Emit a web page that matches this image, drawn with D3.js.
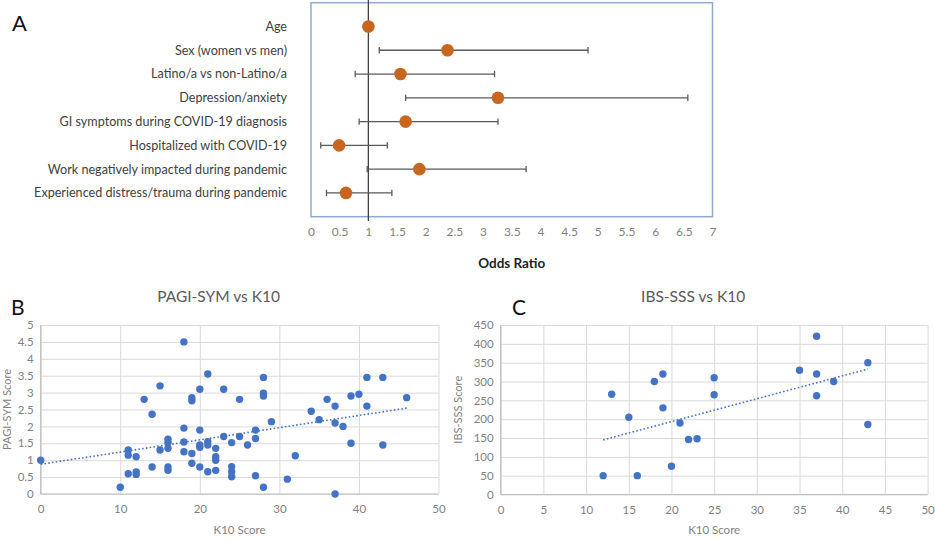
<!DOCTYPE html>
<html>
<head>
<meta charset="utf-8">
<script src="https://cdn.jsdelivr.net/npm/d3@7"></script>
<style>
  body { margin: 0; background: #fff; }
  svg { display: block; font-family: Lato, "Open Sans", sans-serif; }
</style>
</head>
<body>
<svg width="935" height="540"></svg>
<script>
// --- Panel A : odds ratios ---
var oddsLabels = [
    "Age",
    "Sex (women vs men)",
    "Latino/a vs non-Latino/a",
    "Depression/anxiety",
    "GI symptoms during COVID-19 diagnosis",
    "Hospitalized with COVID-19",
    "Work negatively impacted during pandemic",
    "Experienced distress/trauma during pandemic"
];
var oddsRatio = [1.0, 2.38, 1.56, 3.26, 1.65, 0.49, 1.89, 0.61];
var ciLower   = [0.98, 1.19, 0.77, 1.65, 0.84, 0.17, 0.98, 0.27];
var ciUpper   = [1.02, 4.83, 3.20, 6.57, 3.26, 1.33, 3.75, 1.41];
var oddsTicks = [0, 0.5, 1, 1.5, 2, 2.5, 3, 3.5, 4, 4.5, 5, 5.5, 6, 6.5, 7];

// --- Panel B : PAGI-SYM vs K10 ---
var pagiK10 = [0, 10, 11, 11, 11, 12, 12, 12, 13, 14, 14, 15, 15,
    16, 16, 16, 16, 16, 18, 18, 18, 18, 19, 19, 19, 19,
    20, 20, 20, 20, 20, 21, 21, 21, 21, 22, 22, 22, 22,
    23, 23, 24, 24, 24, 24, 25, 25, 26, 27, 27, 27,
    28, 28, 28, 28, 29, 31, 32, 34, 35, 36, 37, 37, 37,
    38, 39, 39, 40, 41, 41, 43, 43, 46];
var pagiScore = [1.0, 0.2, 1.3, 1.15, 0.6, 1.1, 0.65, 0.58, 2.8, 2.36, 0.8, 3.2, 1.3,
    1.62, 1.52, 1.35, 0.8, 0.7, 4.5, 1.95, 1.54, 1.25, 2.85, 2.76, 1.2, 0.91,
    3.1, 1.89, 1.45, 1.38, 0.8, 3.55, 1.55, 1.45, 0.66, 1.35, 1.1, 1.0, 0.7,
    3.1, 1.7, 1.52, 0.81, 0.66, 0.51, 2.8, 1.7, 1.45, 1.89, 1.64, 0.54,
    3.45, 2.98, 2.9, 0.2, 2.14, 0.44, 1.13, 2.45, 2.2, 2.8, 2.6, 2.1, 0,
    2.0, 2.9, 1.5, 2.95, 3.45, 2.6, 3.45, 1.45, 2.85];
var pagiTrend = [[0, 0.88], [46, 2.54]];
var pagiXTicks = [0, 10, 20, 30, 40, 50];
var pagiYTicks = [0, 0.5, 1, 1.5, 2, 2.5, 3, 3.5, 4, 4.5, 5];

// --- Panel C : IBS-SSS vs K10 ---
var ibsK10 = [12, 13, 15, 16, 18, 19, 19, 20, 21, 22, 23, 25, 25, 35, 37, 37, 37, 39, 43, 43];
var ibsScore = [50, 266, 205, 50, 300, 320, 230, 75, 190, 146, 148, 310, 265, 330, 420, 320, 262, 300, 350, 186];
var ibsTrend = [[12, 145], [43, 333]];
var ibsXTicks = [0, 5, 10, 15, 20, 25, 30, 35, 40, 45, 50];
var ibsYTicks = [0, 50, 100, 150, 200, 250, 300, 350, 400, 450];

var svg = d3.select("svg");
var gridColor = "#d9d9d9";
var tickColor = "#7f7f7f";
var blue = "#4472c4";
var orange = "#c8651e";
var fmt = d3.format("~g"); // 0.5, 1, 1.5 ... comme Excel

// ================= Panel A =================
var xA = d3.scaleLinear().domain([0, 7]).range([311, 712.5]);
var yA = d3.scalePoint().domain(oddsLabels).range([2.7, 216.7]).padding(1);

svg.append("text")
    .attr("x", 12).attr("y", 31)
    .attr("font-size", "22px").attr("fill", "#111")
    .text("A");

// cadre
svg.append("rect")
    .attr("x", xA(0)).attr("y", 2.7)
    .attr("width", xA(7) - xA(0)).attr("height", 214)
    .attr("fill", "none").attr("stroke", "#8fa8d2").attr("stroke-width", 1.5);

// ligne de référence OR = 1
svg.append("line")
    .attr("x1", xA(1)).attr("x2", xA(1))
    .attr("y1", 0).attr("y2", 221)
    .attr("stroke", "#404040").attr("stroke-width", 1.3);

// étiquettes des catégories
svg.append("g").selectAll("text")
    .data(oddsLabels)
    .join("text")
    .attr("x", 287)
    .attr("y", function(d) { return yA(d); })
    .attr("dy", "0.35em")
    .attr("text-anchor", "end")
    .attr("font-size", "12.6px")
    .attr("fill", "#404040")
    .text(function(d) { return d; });

// axe des x (étiquettes seulement)
var axisA = svg.append("g")
    .attr("transform", "translate(0,227)")
    .call(d3.axisBottom(xA).tickValues(oddsTicks).tickFormat(fmt).tickSize(0).tickPadding(0));
axisA.select(".domain").remove();
axisA.selectAll("text")
    .attr("font-family", "Lato, sans-serif")
    .attr("font-size", "12px").attr("fill", tickColor);

svg.append("text")
    .attr("x", (xA(0) + xA(7)) / 2).attr("y", 268)
    .attr("text-anchor", "middle")
    .attr("font-size", "13.5px").attr("font-weight", "bold").attr("fill", "#222")
    .text("Odds Ratio");

// barres d'erreur
var bars = svg.append("g").selectAll("g")
    .data(oddsLabels)
    .join("g");

bars.append("line")
    .attr("x1", function(d, i) { return xA(ciLower[i]); })
    .attr("x2", function(d, i) { return xA(ciUpper[i]); })
    .attr("y1", function(d) { return yA(d); })
    .attr("y2", function(d) { return yA(d); })
    .attr("stroke", "#595959").attr("stroke-width", 1.3);

[ciLower, ciUpper].forEach(function(arr) {
    bars.append("line")
        .attr("x1", function(d, i) { return xA(arr[i]); })
        .attr("x2", function(d, i) { return xA(arr[i]); })
        .attr("y1", function(d) { return yA(d) - 3.2; })
        .attr("y2", function(d) { return yA(d) + 3.2; })
        .attr("stroke", "#595959").attr("stroke-width", 1.3);
});

bars.append("circle")
    .attr("cx", function(d, i) { return xA(oddsRatio[i]); })
    .attr("cy", function(d) { return yA(d); })
    .attr("r", 6.3)
    .attr("fill", orange);

// ================= Scatter helper =================
function drawScatter(opt) {
    var x = opt.x, y = opt.y;
    var x0 = x.range()[0], x1 = x.range()[1];
    var y0 = y.range()[0], y1 = y.range()[1];

    // lignes de grille
    var gx = svg.append("g")
        .attr("transform", "translate(0," + y0 + ")")
        .call(d3.axisBottom(x).tickValues(opt.xTicks).tickFormat(fmt).tickSize(-(y0 - y1)).tickPadding(11));
    gx.select(".domain").remove();
    gx.selectAll("line").attr("stroke", gridColor).attr("stroke-width", 1);

    var gy = svg.append("g")
        .attr("transform", "translate(" + x0 + ",0)")
        .call(d3.axisLeft(y).tickValues(opt.yTicks).tickFormat(fmt).tickSize(-(x1 - x0)).tickPadding(7));
    gy.select(".domain").remove();
    gy.selectAll("line").attr("stroke", gridColor).attr("stroke-width", 1);

    [gx, gy].forEach(function(g) {
        g.selectAll("text")
            .attr("font-family", "Lato, sans-serif")
            .attr("font-size", "11.5px").attr("fill", tickColor);
    });

    // axes principaux
    svg.append("line")
        .attr("x1", x0).attr("x2", x1).attr("y1", y0).attr("y2", y0)
        .attr("stroke", "#bfbfbf").attr("stroke-width", 1.2);
    svg.append("line")
        .attr("x1", x0).attr("x2", x0).attr("y1", y0).attr("y2", y1)
        .attr("stroke", "#bfbfbf").attr("stroke-width", 1.2);

    // points
    svg.append("g").selectAll("circle")
        .data(opt.xs)
        .join("circle")
        .attr("cx", function(d) { return x(d); })
        .attr("cy", function(d, i) { return y(opt.ys[i]); })
        .attr("r", 3.7)
        .attr("fill", blue);

    // courbe de tendance (pointillés)
    svg.append("path")
        .datum(opt.trend)
        .attr("d", d3.line()
            .x(function(d) { return x(d[0]); })
            .y(function(d) { return y(d[1]); }))
        .attr("fill", "none")
        .attr("stroke", blue).attr("stroke-width", 1.6)
        .attr("stroke-dasharray", "1.6,2.2");

    // titres
    svg.append("text")
        .attr("x", opt.letterX).attr("y", 315)
        .attr("font-size", "21px").attr("fill", "#111")
        .text(opt.letter);

    svg.append("text")
        .attr("x", (x0 + x1) / 2 - 21).attr("y", 302)
        .attr("text-anchor", "middle")
        .attr("font-size", "15.5px").attr("fill", "#595959")
        .text(opt.title);

    svg.append("text")
        .attr("x", (x0 + x1) / 2).attr("y", 534)
        .attr("text-anchor", "middle")
        .attr("font-size", "11.5px").attr("fill", tickColor)
        .text("K10 Score");

    svg.append("text")
        .attr("transform", "translate(" + opt.yTitleX + "," + ((y0 + y1) / 2) + ") rotate(-90)")
        .attr("text-anchor", "middle")
        .attr("font-size", "11px").attr("fill", tickColor)
        .text(opt.yTitle);
}

// ================= Panel B =================
drawScatter({
    x: d3.scaleLinear().domain([0, 50]).range([40.7, 438.5]),
    y: d3.scaleLinear().domain([0, 5]).range([494, 325]),
    xs: pagiK10, ys: pagiScore, trend: pagiTrend,
    xTicks: pagiXTicks, yTicks: pagiYTicks,
    letter: "B", letterX: 11,
    title: "PAGI-SYM vs K10",
    yTitle: "PAGI-SYM Score", yTitleX: 11
});

// ================= Panel C =================
drawScatter({
    x: d3.scaleLinear().domain([0, 50]).range([500.7, 927.6]),
    y: d3.scaleLinear().domain([0, 450]).range([494.5, 325]),
    xs: ibsK10, ys: ibsScore, trend: ibsTrend,
    xTicks: ibsXTicks, yTicks: ibsYTicks,
    letter: "C", letterX: 512,
    title: "IBS-SSS vs K10",
    yTitle: "IBS-SSS Score", yTitleX: 462
});
</script>
</body>
</html>
